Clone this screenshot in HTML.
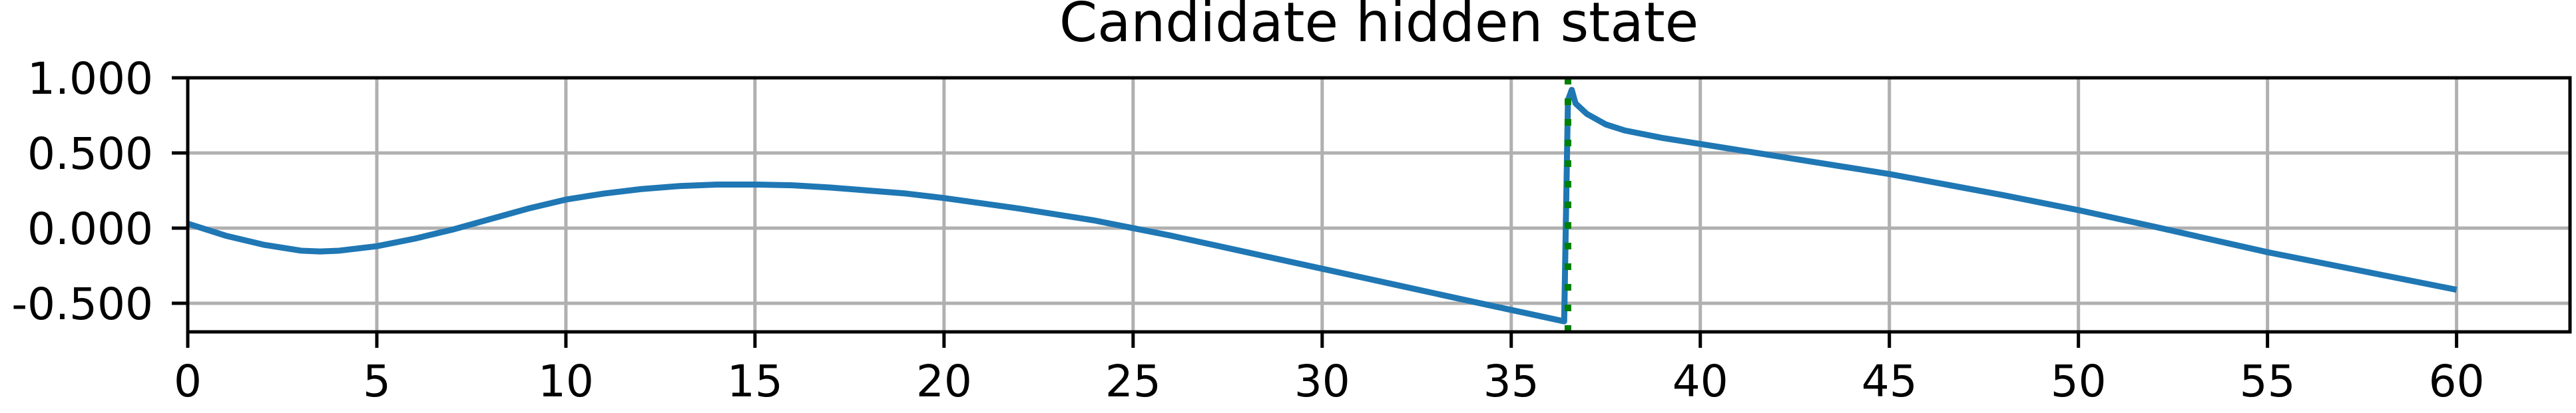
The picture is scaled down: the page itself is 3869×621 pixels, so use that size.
<!DOCTYPE html>
<html><head><meta charset="utf-8"><style>
html,body{margin:0;padding:0;background:#fff;}
svg{display:block;font-family:"DejaVu Sans","Liberation Sans",sans-serif;}
</style></head><body>
<svg id="chart" width="3869" height="621" viewBox="0 0 3869 621">
<text x="2071" y="62" font-size="82" text-anchor="middle">Candidate hidden state</text>
<g id="grid"></g><g id="series"></g><g id="axes"></g>
</svg>
<script>
const xs=[0,1,2,3,3.5,4,5,6,7,8,9,10,11,12,13,14,15,16,17,18,19,20,22,24,25,26,28,30,32,34,36.4,36.5,36.6,36.7,37,37.5,38,39,40,42,45,48,50,52,55,58,60];
const ys=[0.03,-0.05,-0.11,-0.15,-0.155,-0.15,-0.12,-0.07,-0.01,0.06,0.13,0.19,0.23,0.26,0.28,0.29,0.29,0.285,0.27,0.25,0.23,0.2,0.13,0.05,0.0,-0.05,-0.16,-0.27,-0.38,-0.49,-0.62,0.85,0.92,0.83,0.76,0.69,0.65,0.6,0.56,0.48,0.36,0.22,0.12,0.01,-0.16,-0.31,-0.41];
const xTicks=[0,5,10,15,20,25,30,35,40,45,50,55,60];
const yTicks=[-0.5,0,0.5,1.0];
const yTickLabels=["-0.500","0.000","0.500","1.000"];
const markerX=[36.5];
const X0=282,X1=3860,Y0=117,Y1=499,xMin=0,xMax=63,yMin=-0.69,yMax=1.0;
const sx=v=>X0+(v-xMin)/(xMax-xMin)*(X1-X0);
const sy=v=>Y1-(v-yMin)/(yMax-yMin)*(Y1-Y0);
const NS="http://www.w3.org/2000/svg";
function mk(t,a,p){const e=document.createElementNS(NS,t);for(const k in a)e.setAttribute(k,a[k]);p.appendChild(e);return e;}
const grid=document.getElementById('grid'),ser=document.getElementById('series'),ax=document.getElementById('axes');
xTicks.forEach(t=>{
 const g=mk('line',{x1:sx(t),x2:sx(t),y1:Y0,y2:Y1,stroke:'#b0b0b0','stroke-width':5},grid);
 
 
 const tk=mk('line',{x1:sx(t),x2:sx(t),y1:Y1,y2:Y1+24,stroke:'#000','stroke-width':5},ax);
 
 
 const tx=mk('text',{x:sx(t),y:596,'font-size':66,'text-anchor':'middle'},ax);
 tx.textContent=String(t);
 
 
});
yTicks.forEach((t,i)=>{
 const g=mk('line',{x1:X0,x2:X1,y1:sy(t),y2:sy(t),stroke:'#b0b0b0','stroke-width':5},grid);
 
 
 const tk=mk('line',{x1:X0-24,x2:X0,y1:sy(t),y2:sy(t),stroke:'#000','stroke-width':5},ax);
 
 
 const tx=mk('text',{x:230,y:sy(t)+24,'font-size':66,'text-anchor':'end'},ax);
 tx.textContent=yTickLabels[i];
 
 
});
const pl=mk('polyline',{points:xs.map((x,i)=>sx(x)+','+sy(ys[i])).join(' '),fill:'none',stroke:'#1f77b4','stroke-width':9,'stroke-linejoin':'round','stroke-linecap':'butt'},ser);


markerX.forEach(m=>{
 const v=mk('line',{x1:sx(m),x2:sx(m),y1:Y0,y2:Y1,stroke:'#008000','stroke-width':10,'stroke-dasharray':'10 21'},ser);
 
 
});
const fr=mk('rect',{x:X0,y:Y0,width:X1-X0,height:Y1-Y0,fill:'none',stroke:'#000','stroke-width':5},ax);


</script>
</body></html>
